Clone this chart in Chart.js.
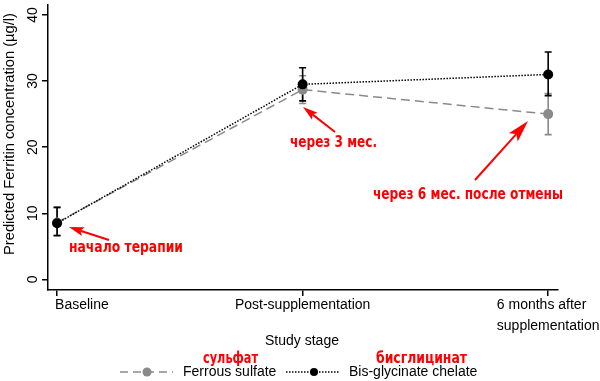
<!DOCTYPE html>
<html><head><meta charset="utf-8">
<script src="https://cdn.jsdelivr.net/npm/chart.js@4/dist/chart.umd.min.js"></script>
<style>html,body{margin:0;padding:0;background:#fff}#wrap{width:600px;height:381px}</style>
</head><body><div id="wrap"><canvas id="c" width="600" height="381"></canvas></div>
<script>
const categories = [["Baseline"], ["Post-supplementation"], ["6 months after", "supplementation"]];
const seriesNames = ["Ferrous sulfate", "Bis-glycinate chelate"];
const ferrous = [8.6, 28.7, 25.0];
const ferrousLow = [6.7, 26.6, 21.9];
const ferrousHigh = [10.9, 30.8, 28.1];
const bis = [8.5, 29.5, 31.0];
const bisLow = [6.6, 27.0, 27.8];
const bisHigh = [10.9, 32.0, 34.4];
const yTicks = [0, 10, 20, 30, 40];
const notes = ["начало терапии", "через 3 мес.", "через 6 мес. после отмены"];
const legendNotes = ["сульфат", "бисглицинат"];

const GREY = '#8a8a8a';
const AX = '14px "Liberation Sans", Arial, sans-serif';
const RED = 'bold 16px "DejaVu Sans Condensed", "DejaVu Sans", sans-serif';

function arrow(ctx, x1, y1, x2, y2, L, W) {
  const a = Math.atan2(y2 - y1, x2 - x1);
  ctx.save();
  ctx.strokeStyle = '#ff0000'; ctx.fillStyle = '#ff0000'; ctx.lineWidth = 2;
  ctx.beginPath(); ctx.moveTo(x1, y1);
  ctx.lineTo(x2 - L * 0.8 * Math.cos(a), y2 - L * 0.8 * Math.sin(a)); ctx.stroke();
  ctx.beginPath(); ctx.moveTo(x2, y2);
  ctx.lineTo(x2 - L * Math.cos(a) + W * Math.sin(a), y2 - L * Math.sin(a) - W * Math.cos(a));
  ctx.lineTo(x2 - L * 0.8 * Math.cos(a), y2 - L * 0.8 * Math.sin(a));
  ctx.lineTo(x2 - L * Math.cos(a) - W * Math.sin(a), y2 - L * Math.sin(a) + W * Math.cos(a));
  ctx.closePath(); ctx.fill();
  ctx.restore();
}

function fitText(ctx, text, left, base, width) {
  const w = ctx.measureText(text).width;
  ctx.save(); ctx.translate(left, base); ctx.scale(width / w, 1);
  ctx.fillText(text, 0, 0); ctx.restore();
}

const errPlugin = {
  id: 'err',
  beforeDatasetsDraw(chart) {
    const ctx = chart.ctx, xs = chart.scales.x, ys = chart.scales.y;
    const sets = [[ferrousLow, ferrousHigh, GREY], [bisLow, bisHigh, '#000']];
    ctx.save();
    sets.forEach(([lo, hi, col]) => {
      ctx.strokeStyle = col; ctx.lineWidth = 1.6;
      lo.forEach((v, i) => {
        const x = xs.getPixelForValue(i), y1 = ys.getPixelForValue(v), y2 = ys.getPixelForValue(hi[i]);
        ctx.beginPath();
        ctx.moveTo(x, y1); ctx.lineTo(x, y2);
        ctx.moveTo(x - 3.5, y1); ctx.lineTo(x + 3.5, y1);
        ctx.moveTo(x - 3.5, y2); ctx.lineTo(x + 3.5, y2);
        ctx.stroke();
      });
    });
    ctx.restore();
  }
};

const textPlugin = {
  id: 'txt',
  afterDraw(chart) {
    const ctx = chart.ctx, xs = chart.scales.x, ys = chart.scales.y;
    ctx.save();
    ctx.fillStyle = '#000'; ctx.font = AX; ctx.textBaseline = 'middle';
    yTicks.forEach(v => {
      ctx.save(); ctx.translate(33, ys.getPixelForValue(v)); ctx.rotate(-Math.PI / 2);
      ctx.textAlign = 'center'; ctx.fillText(String(v), 0, 0); ctx.restore();
    });
    ctx.save(); ctx.translate(10, 134); ctx.rotate(-Math.PI / 2);
    ctx.font = '14.7px "Liberation Sans", Arial, sans-serif';
    ctx.textAlign = 'center'; ctx.fillText('Predicted Ferritin concentration (µg/l)', 0, 0); ctx.restore();
    categories.forEach((lines, i) => {
      const x = xs.getPixelForValue(i);
      const w = Math.max(...lines.map(l => ctx.measureText(l).width));
      let left = x - w / 2;
      if (i === 0) left = x - 2;
      ctx.textAlign = 'left';
      lines.forEach((l, k) => ctx.fillText(l, left, 305 + k * 21));
    });
    ctx.textAlign = 'center';
    ctx.fillText('Study stage', 302, 341);
    const ly = 372;
    ctx.textAlign = 'left';
    ctx.save(); ctx.strokeStyle = GREY; ctx.lineWidth = 1.5; ctx.setLineDash([8, 5]);
    ctx.beginPath(); ctx.moveTo(120, ly); ctx.lineTo(173, ly); ctx.stroke(); ctx.restore();
    ctx.fillStyle = GREY; ctx.beginPath(); ctx.arc(147, ly, 4.5, 0, 2 * Math.PI); ctx.fill();
    ctx.fillStyle = '#000'; ctx.fillText(seriesNames[0], 183, ly);
    ctx.save(); ctx.strokeStyle = '#000'; ctx.lineWidth = 1.5; ctx.setLineDash([1.5, 1.5]);
    ctx.beginPath(); ctx.moveTo(286, ly); ctx.lineTo(340, ly); ctx.stroke(); ctx.restore();
    ctx.beginPath(); ctx.arc(314, ly, 4, 0, 2 * Math.PI); ctx.fill();
    ctx.fillText(seriesNames[1], 349, ly);
    ctx.fillStyle = '#ff0000'; ctx.font = RED; ctx.textAlign = 'left'; ctx.textBaseline = 'alphabetic';
    fitText(ctx, notes[0], 69, 252, 114);
    fitText(ctx, notes[1], 290, 147, 87);
    fitText(ctx, notes[2], 373, 199, 190);
    fitText(ctx, legendNotes[0], 203, 363, 55);
    fitText(ctx, legendNotes[1], 376, 363, 91);
    arrow(ctx, 109, 240, 69, 227, 15, 4.5);
    arrow(ctx, 335, 132, 303, 107, 15, 4.5);
    arrow(ctx, 475, 180, 528, 121, 22, 6);
    ctx.restore();
  }
};

const pts = arr => arr.map((v, i) => ({ x: i, y: v }));

new Chart(document.getElementById('c'), {
  type: 'line',
  data: {
    datasets: [
      { label: seriesNames[1], data: pts(bis), order: 1, borderColor: '#000', backgroundColor: '#000',
        borderWidth: 1.5, borderDash: [1.5, 1.5], pointRadius: 5, pointBackgroundColor: '#000', pointBorderWidth: 0 },
      { label: seriesNames[0], data: pts(ferrous), order: 2, borderColor: GREY, backgroundColor: GREY,
        borderWidth: 1.5, borderDash: [9, 5], pointRadius: 5, pointBackgroundColor: GREY, pointBorderWidth: 0 }
    ]
  },
  options: {
    responsive: false, animation: false,
    layout: { padding: { top: 0, right: 42, left: 0, bottom: 0 } },
    plugins: { legend: { display: false }, tooltip: { enabled: false } },
    scales: {
      x: {
        type: 'linear', min: -0.037, max: 2.04,
        afterBuildTicks: s => { s.ticks = categories.map((c, i) => ({ value: i })); },
        afterFit: s => { s.height = 91; },
        ticks: { display: false },
        border: { display: true, color: '#000', width: 1.5 },
        grid: { drawOnChartArea: false, drawTicks: true, tickLength: 6, color: '#000', lineWidth: 1.5 }
      },
      y: {
        min: -1.6, max: 41.5,
        afterBuildTicks: s => { s.ticks = yTicks.map(v => ({ value: v })); },
        afterFit: s => { s.width = 48; },
        ticks: { display: false },
        border: { display: true, color: '#000', width: 1.5 },
        grid: { drawOnChartArea: false, drawTicks: true, tickLength: 6, color: '#000', lineWidth: 1.5 }
      }
    }
  },
  plugins: [errPlugin, textPlugin]
});
</script>
</body></html>
